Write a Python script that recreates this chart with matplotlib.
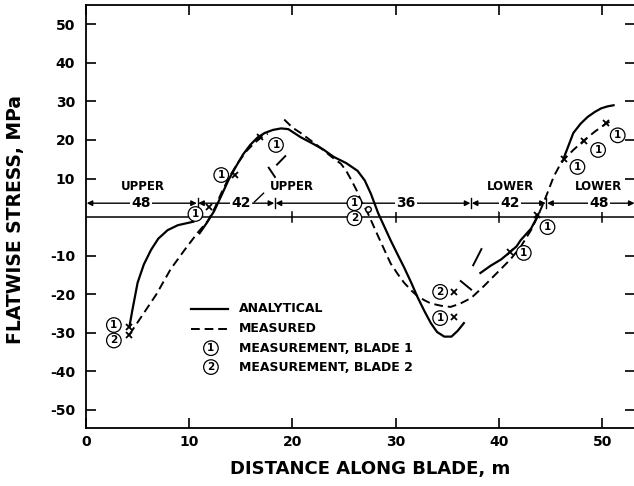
import numpy as np
import matplotlib.pyplot as plt

plt.rcParams['font.family'] = ['DejaVu Sans']
plt.rcParams['font.weight'] = 'bold'
plt.rcParams['axes.unicode_minus'] = False

# analytical curve (solid), in pieces
an1_x = [4.2, 4.5, 5.0, 5.6, 6.3, 7.0, 7.9, 8.9, 9.9, 10.4]
an1_y = [-28.5, -24.0, -17.0, -12.3, -8.5, -5.6, -3.4, -2.1, -1.5, -1.2]
an2_x = [11.0, 11.7, 12.4, 13.1, 13.8, 14.5, 15.2, 15.9, 16.6, 17.3, 18.1, 18.9, 19.6,
         20.8, 22.0, 23.0, 24.0, 25.2, 26.3, 27.0, 27.6, 28.3, 28.9, 29.5, 30.2, 30.8,
         31.5, 32.1, 32.8, 33.4, 34.0, 34.7, 35.4, 36.0, 36.6]
an2_y = [-4.2, -1.5, 1.5, 5.5, 9.6, 13.0, 16.2, 18.7, 20.6, 21.8, 22.6, 23.0, 22.8,
         20.7, 19.0, 17.5, 15.6, 14.0, 12.0, 9.5, 6.0, 1.0, -2.5, -6.0, -9.8, -13.0,
         -17.0, -20.7, -24.5, -27.5, -29.8, -31.0, -31.0, -29.5, -27.5]
an3_x = [38.2, 39.2, 40.2, 41.1, 41.7, 42.1, 42.6, 43.1, 43.5, 43.8]
an3_y = [-14.5, -12.6, -11.0, -9.0, -7.6, -6.0, -4.5, -3.0, -1.0, 0.5]
an4_x = [46.3, 46.8, 47.2, 47.9, 48.6, 49.3, 49.9, 50.5, 51.1]
an4_y = [15.5, 19.0, 21.8, 24.2, 26.0, 27.3, 28.2, 28.7, 29.0]

# measured curve (dashed)
me1_x = [4.2, 5.5, 6.8, 8.2, 9.5, 10.8, 11.8, 12.5, 13.1, 13.9, 14.7, 15.5, 16.3, 17.0, 17.6]
me1_y = [-30.5, -25.3, -20.1, -13.5, -8.7, -4.1, -1.0, 2.5, 6.2, 10.5, 14.0, 17.0, 19.2, 20.7, 21.6]
me2_x = [19.2, 20.0, 20.8, 21.7, 22.7, 23.7, 24.7, 25.2, 25.7, 26.2, 26.6, 27.3, 27.8, 28.3,
         28.9, 29.5, 30.2, 30.8, 31.5, 32.1, 32.8, 33.4, 34.4, 35.3, 36.2, 37.3, 38.5, 39.8,
         41.1, 42.1, 43.1, 43.8, 44.3, 44.8, 45.3, 45.8, 46.3, 47.2, 48.2, 49.3, 50.4, 50.9]
me2_y = [25.3, 23.2, 21.8, 20.0, 18.0, 15.8, 13.8, 12.0, 9.6, 7.0, 4.4, 1.0, -2.0, -5.0,
         -8.5, -12.0, -14.8, -17.0, -19.0, -20.5, -21.6, -22.4, -23.0, -23.3, -22.5, -21.0, -18.0, -14.5,
         -11.0, -7.7, -3.4, 0.5, 3.6, 7.0, 10.5, 13.0, 15.0, 17.4, 19.8, 22.2, 24.3, 25.0]
# short measured pieces at the blade joints
joint_pieces = [([17.7, 18.3], [12.8, 10.4]), ([18.5, 19.3], [13.6, 15.8]),
                ([36.3, 37.3], [-16.6, -18.8]), ([37.5, 38.3], [-12.5, -8.3])]

# measurement points
b1_x = [4.2, 11.9, 14.4, 16.9, 35.6, 41.1, 43.7, 46.3, 48.2, 50.4]
b1_y = [-28.5, 2.5, 10.9, 20.7, -26.0, -9.0, 0.5, 15.0, 19.8, 24.3]
b2_x = [4.2, 35.6]
b2_y = [-30.5, -19.5]
both_x = [27.3]
both_y = [2.0]
b1_lab_x = [2.7, 10.6, 13.1, 18.4, 26.0, 34.3, 42.4, 44.7, 47.6, 49.6, 51.5]
b1_lab_y = [-28.0, 0.8, 10.9, 18.7, 3.6, -26.2, -9.3, -2.6, 13.0, 17.4, 21.2]
b2_lab_x = [2.7, 26.0, 34.3]
b2_lab_y = [-32.0, -0.3, -19.4]

# blade zones
zone_y = 3.6
zone_edges = [0, 10.8, 18.3, 37.3, 44.6, 53.2]
zone_nums = ['48', '42', '36', '42', '48']
zone_num_x = [5.3, 15.0, 31.0, 41.1, 49.7]
zone_names = ['UPPER', 'UPPER', 'LOWER', 'LOWER']
zone_name_x = [5.5, 19.9, 41.1, 49.6]

fig = plt.figure(figsize=(6.34, 4.86), dpi=100)
ax = fig.add_axes([86 / 634, 1 - 428 / 486, 1 - 86 / 634 + 0.002, (428 - 5) / 486])
ax.set_xlim(0, 53.2)
ax.set_ylim(-54.7, 55)

lw = 1.6
for xs, ys in [(an1_x, an1_y), (an2_x, an2_y), (an3_x, an3_y), (an4_x, an4_y)]:
    ax.plot(xs, ys, color='black', lw=lw, zorder=3)
for xs, ys in [(me1_x, me1_y), (me2_x, me2_y)]:
    ax.plot(xs, ys, color='black', lw=1.4, dashes=(4.5, 2.5), zorder=3)
for xs, ys in joint_pieces:
    ax.plot(xs, ys, color='black', lw=1.4, zorder=3)

ax.plot(b1_x + b2_x, b1_y + b2_y, 'x', color='black', ms=5, mew=1.3, zorder=4)
ax.plot(both_x, both_y, 'o', mfc='white', mec='black', ms=4, mew=1, zorder=4)

circ = dict(boxstyle='circle,pad=0.22', fc='white', ec='black', lw=0.9)
for xs, ys, n in [(b1_lab_x, b1_lab_y, '1'), (b2_lab_x, b2_lab_y, '2')]:
    for x, y in zip(xs, ys):
        ax.text(x, y, n, ha='center', va='center', fontsize=7.5, bbox=circ, zorder=6)

# zero line with ticks
ax.axhline(0, color='black', lw=1.1, zorder=2)
for x in [20, 30, 40, 50]:
    ax.plot([x, x], [-1.3, 1.3], color='black', lw=1.1, zorder=2)

# zone dimension line
for i in range(len(zone_nums)):
    a, b = zone_edges[i], zone_edges[i + 1]
    ax.annotate('', xy=(a, zone_y), xytext=(b, zone_y),
                arrowprops=dict(arrowstyle='<|-|>', color='black', lw=1.0,
                                shrinkA=0.5, shrinkB=0.5, mutation_scale=8), zorder=2)
    ax.text(zone_num_x[i], zone_y, zone_nums[i], ha='center', va='center', fontsize=10,
            bbox=dict(fc='white', ec='none', pad=1), zorder=3)
for e in zone_edges[1:-1]:
    ax.plot([e, e], [zone_y - 1.3, zone_y + 1.3], color='black', lw=1.0, zorder=2)
for x, name in zip(zone_name_x, zone_names):
    ax.text(x, 8.0, name, ha='center', va='center', fontsize=8.5)
ax.plot([16.3, 17.2], [3.9, 6.2], color='black', lw=1.0)

# legend
ax.plot([10.2, 13.8], [-23.8, -23.8], color='black', lw=lw)
ax.plot([10.2, 13.8], [-29.0, -29.0], color='black', lw=1.4, dashes=(4.5, 2.5))
ax.text(12.1, -34.0, '1', ha='center', va='center', fontsize=7.5, bbox=circ)
ax.text(12.1, -38.9, '2', ha='center', va='center', fontsize=7.5, bbox=circ)
leg_text = ['ANALYTICAL', 'MEASURED', 'MEASUREMENT, BLADE 1', 'MEASUREMENT, BLADE 2']
for t, y in zip(leg_text, [-23.8, -29.0, -34.0, -38.9]):
    ax.text(14.8, y, t, ha='left', va='center', fontsize=9)

ax.set_xticks([0, 10, 20, 30, 40, 50])
ax.set_yticks([-50, -40, -30, -20, -10, 10, 20, 30, 40, 50])
ax.tick_params(direction='in', length=7, width=1.2, top=True, right=True, labelsize=10)
ax.tick_params(axis='y', pad=8)
ax.tick_params(axis='x', pad=5)
for s in ax.spines.values():
    s.set_linewidth(1.3)

fig.text(370 / 634, 1 - 469 / 486, 'DISTANCE ALONG BLADE, m', ha='center', va='center',
         fontsize=13)
fig.text(16 / 634, 1 - 220 / 486, 'FLATWISE STRESS, MPa', ha='center', va='center',
         rotation=90, fontsize=13.5)

fig.savefig('out.png', dpi=100)
